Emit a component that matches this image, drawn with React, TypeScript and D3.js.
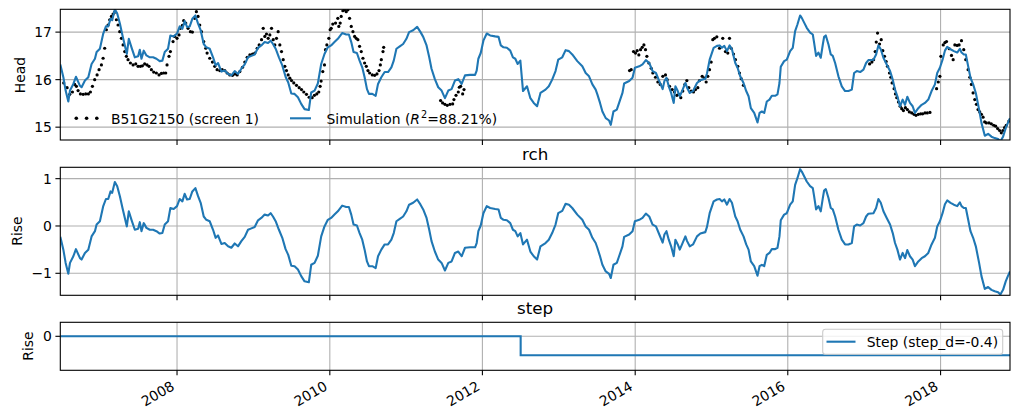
import React, { useEffect, useRef } from "react";
import * as d3 from "d3";

// time axis is kept in decimal years and turned into dates for the scale
const toDate = (t: number) => {
  const yr = Math.floor(t);
  const a = new Date(yr, 0, 1).getTime();
  const b = new Date(yr + 1, 0, 1).getTime();
  return new Date(a + (t - yr) * (b - a));
};

const yearTicks = [2008, 2010, 2012, 2014, 2016, 2018];

// recharge contribution [year, rise]
const rch: [number, number][] = [
  [2006.47, -0.23], [2006.51, -0.5], [2006.54, -0.78], [2006.575, -1.01], [2006.597, -0.78],
  [2006.641, -0.64], [2006.675, -0.49], [2006.728, -0.68], [2006.749, -0.71], [2006.793, -0.57],
  [2006.837, -0.5], [2006.88, -0.22], [2006.924, -0.11], [2006.946, 0.03], [2006.989, 0.1],
  [2007.033, 0.42], [2007.068, 0.57], [2007.098, 0.57], [2007.129, 0.73], [2007.15, 0.7],
  [2007.185, 0.93], [2007.216, 0.84], [2007.251, 0.63], [2007.285, 0.38], [2007.316, 0.17],
  [2007.342, -0.01], [2007.368, 0.31], [2007.403, 0.13], [2007.447, -0.08], [2007.49, -0.06],
  [2007.512, 0.08], [2007.534, -0.11], [2007.564, 0.06], [2007.599, -0.04], [2007.643, -0.08],
  [2007.686, -0.08], [2007.73, -0.11], [2007.773, -0.16], [2007.808, -0.15], [2007.839, 0.03],
  [2007.882, 0.1], [2007.913, 0.38], [2007.956, 0.36], [2008.0, 0.42], [2008.035, 0.57],
  [2008.07, 0.52], [2008.1, 0.68], [2008.131, 0.56], [2008.166, 0.57], [2008.2, 0.73],
  [2008.24, 0.8], [2008.275, 0.63], [2008.309, 0.49], [2008.349, 0.2], [2008.383, 0.13],
  [2008.427, 0.1], [2008.471, -0.08], [2008.505, -0.25], [2008.536, -0.2], [2008.58, -0.38],
  [2008.623, -0.36], [2008.667, -0.43], [2008.71, -0.46], [2008.754, -0.37], [2008.797, -0.43],
  [2008.841, -0.32], [2008.885, -0.23], [2008.928, -0.08], [2008.972, -0.05], [2009.015, -0.02],
  [2009.059, 0.12], [2009.102, 0.17], [2009.146, 0.24], [2009.19, 0.22], [2009.224, 0.27],
  [2009.255, 0.2], [2009.29, 0.1], [2009.333, -0.08], [2009.377, -0.25], [2009.42, -0.49],
  [2009.455, -0.61], [2009.495, -0.84], [2009.538, -0.85], [2009.582, -0.92], [2009.625, -1.06],
  [2009.669, -1.17], [2009.725, -1.19], [2009.756, -0.82], [2009.8, -0.78], [2009.843, -0.63],
  [2009.887, -0.22], [2009.93, -0.01], [2009.974, 0.13], [2010.017, 0.17], [2010.061, 0.24],
  [2010.105, 0.31], [2010.162, 0.43], [2010.215, 0.4], [2010.25, 0.4], [2010.281, 0.24],
  [2010.311, 0.03], [2010.355, 0.01], [2010.39, -0.15], [2010.425, -0.29], [2010.456, -0.5],
  [2010.487, -0.75], [2010.513, -0.85], [2010.557, -0.85], [2010.601, -0.89], [2010.632, -0.64],
  [2010.675, -0.5], [2010.719, -0.39], [2010.763, -0.39], [2010.807, -0.29], [2010.838, -0.15],
  [2010.873, 0.1], [2010.917, 0.15], [2010.961, 0.2], [2011.004, 0.31], [2011.039, 0.45],
  [2011.092, 0.49], [2011.145, 0.56], [2011.189, 0.45], [2011.224, 0.35], [2011.268, 0.17],
  [2011.303, -0.08], [2011.333, -0.32], [2011.377, -0.54], [2011.421, -0.71], [2011.465, -0.78],
  [2011.509, -0.94], [2011.553, -0.78], [2011.596, -0.75], [2011.64, -0.57], [2011.684, -0.54],
  [2011.728, -0.64], [2011.772, -0.46], [2011.838, -0.45], [2011.904, -0.45], [2011.925, -0.36],
  [2011.947, -0.11], [2011.978, 0.01], [2012.013, 0.27], [2012.057, 0.42], [2012.101, 0.38],
  [2012.167, 0.36], [2012.211, 0.35], [2012.241, 0.17], [2012.276, 0.13], [2012.32, 0.12],
  [2012.364, 0.06], [2012.399, -0.08], [2012.43, -0.11], [2012.461, -0.22], [2012.496, -0.15],
  [2012.531, -0.39], [2012.583, -0.29], [2012.627, -0.54], [2012.671, -0.64], [2012.715, -0.71],
  [2012.759, -0.43], [2012.825, -0.36], [2012.868, -0.29], [2012.912, -0.15], [2012.956, 0.03],
  [2012.991, 0.27], [2013.044, 0.32], [2013.088, 0.47], [2013.132, 0.45], [2013.175, 0.38],
  [2013.241, 0.24], [2013.307, 0.13], [2013.351, -0.01], [2013.395, -0.08], [2013.439, -0.25],
  [2013.482, -0.36], [2013.504, -0.46], [2013.539, -0.64], [2013.57, -0.82], [2013.614, -0.96],
  [2013.658, -1.01], [2013.68, -1.1], [2013.715, -0.82], [2013.759, -0.78], [2013.789, -0.64],
  [2013.833, -0.43], [2013.855, -0.23], [2013.921, -0.18], [2013.965, -0.11], [2013.996, 0.1],
  [2014.053, 0.13], [2014.096, 0.17], [2014.14, 0.26], [2014.184, 0.2], [2014.228, 0.03],
  [2014.272, -0.01], [2014.316, -0.18], [2014.36, -0.35], [2014.383, -0.18], [2014.41, -0.11],
  [2014.44, -0.29], [2014.471, -0.43], [2014.505, -0.64], [2014.527, -0.29], [2014.558, -0.39],
  [2014.584, -0.5], [2014.614, -0.39], [2014.658, -0.22], [2014.68, -0.32], [2014.715, -0.43],
  [2014.758, -0.39], [2014.81, -0.22], [2014.854, -0.16], [2014.919, -0.13], [2014.941, -0.02],
  [2014.976, 0.27], [2015.028, 0.52], [2015.072, 0.56], [2015.107, 0.57], [2015.137, 0.52],
  [2015.168, 0.56], [2015.203, 0.45], [2015.237, 0.57], [2015.268, 0.49], [2015.312, 0.2],
  [2015.342, 0.1], [2015.377, -0.08], [2015.42, -0.22], [2015.455, -0.39], [2015.486, -0.5],
  [2015.516, -0.75], [2015.56, -0.85], [2015.603, -1.05], [2015.63, -0.85], [2015.66, -0.82],
  [2015.691, -0.85], [2015.725, -0.61], [2015.76, -0.57], [2015.791, -0.49], [2015.834, -0.49],
  [2015.865, -0.46], [2015.891, -0.22], [2015.908, 0.12], [2015.952, 0.24], [2015.987, 0.27],
  [2016.031, 0.45], [2016.065, 0.52], [2016.096, 0.87], [2016.126, 1.01], [2016.161, 1.2],
  [2016.183, 1.15], [2016.214, 1.05], [2016.248, 0.94], [2016.292, 0.84], [2016.327, 0.8],
  [2016.344, 0.63], [2016.37, 0.35], [2016.401, 0.42], [2016.431, 0.31], [2016.458, 0.59],
  [2016.475, 0.75], [2016.497, 0.78], [2016.532, 0.59], [2016.562, 0.38], [2016.588, 0.35],
  [2016.619, 0.2], [2016.662, -0.08], [2016.706, -0.29], [2016.749, -0.39], [2016.793, -0.39],
  [2016.837, -0.36], [2016.867, -0.01], [2016.902, 0.03], [2016.946, 0.01], [2016.989, 0.06],
  [2017.024, 0.2], [2017.054, 0.26], [2017.12, 0.27], [2017.155, 0.38], [2017.185, 0.57],
  [2017.216, 0.49], [2017.251, 0.31], [2017.294, 0.17], [2017.338, 0.03], [2017.373, -0.15],
  [2017.403, -0.36], [2017.434, -0.5], [2017.468, -0.71], [2017.503, -0.57], [2017.534, -0.68],
  [2017.564, -0.51], [2017.599, -0.64], [2017.634, -0.71], [2017.664, -0.85], [2017.708, -0.75],
  [2017.752, -0.68], [2017.795, -0.64], [2017.839, -0.57], [2017.882, -0.39], [2017.926, -0.25],
  [2017.956, -0.01], [2017.991, 0.1], [2018.026, 0.27], [2018.057, 0.46], [2018.087, 0.54],
  [2018.131, 0.49], [2018.174, 0.45], [2018.218, 0.42], [2018.253, 0.5], [2018.275, 0.42],
  [2018.305, 0.38], [2018.331, 0.38], [2018.362, 0.13], [2018.392, -0.11], [2018.427, -0.25],
  [2018.462, -0.43], [2018.505, -0.78], [2018.536, -1.06], [2018.58, -1.33], [2018.623, -1.29],
  [2018.667, -1.35], [2018.71, -1.38], [2018.754, -1.4], [2018.784, -1.45], [2018.819, -1.35],
  [2018.854, -1.17], [2018.885, -1.05], [2018.91, -0.96],
];

// step contribution
const stepYears = [2006.47, 2012.5, 2018.91];
const stepValues = [0, -0.4, -0.4];

// model constant
const constantD = 16.55;

// observed heads, B51G2150 screen 1 [year, head]
const observed: [number, number][] = [
  [2006.515, 15.93], [2006.559, 15.83], [2006.594, 15.69], [2006.629, 15.74], [2006.659, 15.9],
  [2006.681, 15.86], [2006.703, 15.77], [2006.734, 15.7], [2006.769, 15.69], [2006.803, 15.7],
  [2006.838, 15.7], [2006.865, 15.74], [2006.891, 15.86], [2006.921, 16.0], [2006.952, 16.1],
  [2006.978, 16.21], [2007.009, 16.31], [2007.031, 16.45], [2007.052, 16.66], [2007.074, 17.05],
  [2007.096, 17.15], [2007.118, 17.26], [2007.14, 17.33], [2007.162, 17.38], [2007.183, 17.42],
  [2007.205, 17.26], [2007.227, 17.15], [2007.249, 17.01], [2007.271, 16.87], [2007.293, 16.73],
  [2007.314, 16.59], [2007.336, 16.49], [2007.358, 16.42], [2007.389, 16.35], [2007.424, 16.31],
  [2007.459, 16.33], [2007.489, 16.28], [2007.52, 16.28], [2007.546, 16.29], [2007.576, 16.33],
  [2007.607, 16.31], [2007.633, 16.28], [2007.664, 16.21], [2007.694, 16.16], [2007.729, 16.14],
  [2007.764, 16.1], [2007.795, 16.13], [2007.825, 16.14], [2007.852, 16.14], [2007.869, 16.31],
  [2007.895, 16.49], [2007.913, 16.59], [2007.948, 16.8], [2007.969, 16.91], [2008.0, 16.87],
  [2008.026, 16.94], [2008.044, 17.08], [2008.07, 17.14], [2008.087, 17.24], [2008.114, 17.19],
  [2008.144, 17.08], [2008.175, 17.01], [2008.201, 17.0], [2008.231, 17.29], [2008.253, 17.43],
  [2008.275, 17.33], [2008.297, 17.15], [2008.319, 17.01], [2008.349, 16.8], [2008.376, 16.66],
  [2008.393, 16.56], [2008.428, 16.45], [2008.463, 16.37], [2008.493, 16.28], [2008.524, 16.21],
  [2008.559, 16.19], [2008.59, 16.21], [2008.624, 16.19], [2008.655, 16.14], [2008.69, 16.1],
  [2008.725, 16.09], [2008.755, 16.12], [2008.786, 16.1], [2008.821, 16.17], [2008.856, 16.26],
  [2008.886, 16.37], [2008.917, 16.47], [2008.952, 16.52], [2008.987, 16.54], [2009.017, 16.56],
  [2009.048, 16.66], [2009.074, 16.73], [2009.105, 16.84], [2009.127, 17.08], [2009.148, 16.91],
  [2009.17, 16.96], [2009.192, 16.87], [2009.214, 16.94], [2009.236, 17.08], [2009.258, 16.84],
  [2009.279, 16.73], [2009.301, 16.87], [2009.323, 17.01], [2009.345, 16.73], [2009.367, 16.59],
  [2009.389, 16.42], [2009.41, 16.28], [2009.432, 16.19], [2009.454, 16.1], [2009.476, 16.03],
  [2009.498, 15.98], [2009.528, 15.93], [2009.563, 15.88], [2009.598, 15.83], [2009.629, 15.79],
  [2009.659, 15.74], [2009.694, 15.69], [2009.729, 15.63], [2009.768, 15.62], [2009.798, 15.67],
  [2009.829, 15.7], [2009.855, 15.74], [2009.873, 15.86], [2009.886, 15.97], [2009.908, 16.17],
  [2009.93, 16.31], [2009.943, 16.63], [2009.961, 16.73], [2009.987, 16.87], [2010.004, 17.05],
  [2010.018, 17.08], [2010.039, 17.17], [2010.075, 17.19], [2010.105, 17.29], [2010.118, 17.12],
  [2010.136, 17.19], [2010.149, 17.33], [2010.171, 17.45], [2010.193, 17.47], [2010.215, 17.43],
  [2010.237, 17.47], [2010.259, 17.29], [2010.281, 17.12], [2010.303, 17.01], [2010.325, 16.91],
  [2010.346, 16.87], [2010.368, 16.84], [2010.39, 16.7], [2010.412, 16.59], [2010.434, 16.45],
  [2010.456, 16.35], [2010.478, 16.28], [2010.5, 16.19], [2010.522, 16.14], [2010.557, 16.1],
  [2010.588, 16.09], [2010.618, 16.12], [2010.645, 16.19], [2010.662, 16.31], [2010.675, 16.42],
  [2010.697, 16.59], [2010.706, 16.68],
  [2011.452, 15.56], [2011.478, 15.51], [2011.509, 15.48], [2011.539, 15.46], [2011.575, 15.48],
  [2011.61, 15.49], [2011.627, 15.58], [2011.654, 15.67], [2011.684, 15.74], [2011.697, 15.84],
  [2011.715, 15.86], [2011.741, 15.7], [2011.759, 15.79],
  [2013.926, 16.19], [2013.948, 16.21], [2013.978, 16.59], [2014.004, 16.56], [2014.026, 16.61],
  [2014.048, 16.52], [2014.07, 16.63], [2014.092, 16.68], [2014.114, 16.73], [2014.135, 16.63],
  [2014.153, 16.49], [2014.179, 16.35], [2014.21, 16.24], [2014.231, 16.14], [2014.266, 16.05],
  [2014.297, 15.95], [2014.328, 15.9], [2014.362, 16.07], [2014.397, 16.1], [2014.419, 16.0],
  [2014.45, 15.86], [2014.485, 15.79], [2014.515, 15.74], [2014.546, 15.67], [2014.572, 15.69],
  [2014.598, 15.62], [2014.624, 15.76], [2014.651, 15.9], [2014.677, 15.98], [2014.703, 15.83],
  [2014.734, 15.76], [2014.764, 15.74], [2014.79, 15.79], [2014.821, 15.83], [2014.843, 15.98],
  [2014.878, 16.07], [2014.908, 16.03], [2014.93, 15.95], [2014.952, 16.07], [2014.974, 16.21],
  [2014.996, 16.37], [2015.017, 16.84], [2015.039, 16.87], [2015.07, 16.9], [2015.105, 16.66],
  [2015.148, 16.87], [2015.183, 16.59], [2015.214, 16.56], [2015.236, 16.87], [2015.258, 16.66],
  [2015.288, 16.54], [2015.314, 16.42], [2015.345, 16.28], [2015.367, 16.14], [2015.389, 16.02],
  [2015.419, 15.88],
  [2017.07, 16.33], [2017.1, 16.37], [2017.122, 16.42], [2017.143, 16.59], [2017.157, 16.79],
  [2017.174, 16.98], [2017.2, 16.75], [2017.222, 16.84], [2017.243, 16.61], [2017.265, 16.49],
  [2017.287, 16.38], [2017.304, 16.28], [2017.33, 16.14], [2017.348, 16.05], [2017.365, 15.93],
  [2017.391, 15.81], [2017.409, 15.7], [2017.426, 15.62], [2017.448, 15.53], [2017.47, 15.44],
  [2017.491, 15.39], [2017.513, 15.35], [2017.539, 15.41], [2017.565, 15.37], [2017.591, 15.32],
  [2017.622, 15.3], [2017.652, 15.27], [2017.678, 15.25], [2017.709, 15.27], [2017.739, 15.28],
  [2017.765, 15.28], [2017.796, 15.3], [2017.826, 15.3], [2017.861, 15.31],
  [2017.948, 15.81], [2017.97, 15.95], [2017.991, 16.07], [2018.004, 16.49], [2018.035, 16.73],
  [2018.057, 16.78], [2018.078, 16.8], [2018.113, 16.65], [2018.143, 16.51], [2018.165, 16.42],
  [2018.187, 16.73], [2018.217, 16.72], [2018.243, 16.73], [2018.274, 16.82], [2018.304, 16.63],
  [2018.33, 16.42], [2018.361, 16.21], [2018.383, 16.05], [2018.404, 15.9], [2018.426, 15.72],
  [2018.448, 15.58], [2018.47, 15.48], [2018.491, 15.37], [2018.513, 15.32], [2018.535, 15.27],
  [2018.557, 15.21], [2018.578, 15.11], [2018.6, 15.09], [2018.635, 15.09], [2018.665, 15.07],
  [2018.696, 15.04], [2018.722, 15.02], [2018.748, 14.97], [2018.774, 14.93], [2018.796, 14.88],
  [2018.817, 14.93], [2018.839, 14.99], [2018.861, 15.04], [2018.896, 15.13],
];

const headTicks = [15, 16, 17];
const rchTicks = [-1, 0, 1];
const stepTicks = [0];

const BLUE = "#1f77b4";
const GRID = "#b0b0b0";
const FONT = "DejaVu Sans, sans-serif";

const stepAt = (t: number) => {
  let v = stepValues[0];
  stepYears.forEach((s, i) => {
    if (t >= s) v = stepValues[i];
  });
  return v;
};

const fmt = (v: number) => (v < 0 ? "\u2212" + Math.abs(v) : String(v));

function App() {
  const ref = useRef<SVGSVGElement>(null);

  useEffect(() => {
    const svg = d3.select(ref.current);
    svg.selectAll("*").remove();

    const left = 60.3,
      right = 1010;
    const x = d3
      .scaleTime()
      .domain([toDate(rch[0][0]), toDate(rch[rch.length - 1][0])])
      .range([left, right]);

    // simulation = constant + recharge + step
    const simulation = rch.map(([t, v]) => [t, constantD + v + stepAt(t)] as [number, number]);

    function panel(id: string, top: number, bottom: number, domain: [number, number], ticks: number[]) {
      const y = d3.scaleLinear().domain(domain).range([bottom, top]);
      const g = svg.append("g");

      g.append("clipPath")
        .attr("id", id)
        .append("rect")
        .attr("x", left)
        .attr("y", top)
        .attr("width", right - left)
        .attr("height", bottom - top);

      g.selectAll(".gx")
        .data(yearTicks)
        .join("line")
        .attr("x1", (d) => x(toDate(d)))
        .attr("x2", (d) => x(toDate(d)))
        .attr("y1", top)
        .attr("y2", bottom)
        .attr("stroke", GRID)
        .attr("stroke-width", 1.1);

      g.selectAll(".gy")
        .data(ticks)
        .join("line")
        .attr("x1", left)
        .attr("x2", right)
        .attr("y1", (d) => y(d))
        .attr("y2", (d) => y(d))
        .attr("stroke", GRID)
        .attr("stroke-width", 1.1);

      const plot = g.append("g").attr("clip-path", `url(#${id})`);

      // axis frame and ticks drawn later so they sit on top
      const frame = () => {
        g.append("rect")
          .attr("x", left)
          .attr("y", top)
          .attr("width", right - left)
          .attr("height", bottom - top)
          .attr("fill", "none")
          .attr("stroke", "black")
          .attr("stroke-width", 1.1);

        g.selectAll(".tx")
          .data(yearTicks)
          .join("line")
          .attr("x1", (d) => x(toDate(d)))
          .attr("x2", (d) => x(toDate(d)))
          .attr("y1", bottom)
          .attr("y2", bottom + 4.9)
          .attr("stroke", "black")
          .attr("stroke-width", 1.1);

        g.selectAll(".ty")
          .data(ticks)
          .join("line")
          .attr("x1", left - 4.9)
          .attr("x2", left)
          .attr("y1", (d) => y(d))
          .attr("y2", (d) => y(d))
          .attr("stroke", "black")
          .attr("stroke-width", 1.1);

        g.selectAll(".tl")
          .data(ticks)
          .join("text")
          .attr("x", left - 8.4)
          .attr("y", (d) => y(d))
          .attr("dy", "0.36em")
          .attr("text-anchor", "end")
          .attr("font-size", 13.9)
          .text((d) => fmt(d));
      };

      return { y, g, plot, frame };
    }

    const line = (y: d3.ScaleLinear<number, number>) =>
      d3
        .line<[number, number]>()
        .x((d) => x(toDate(d[0])))
        .y((d) => y(d[1]));

    // head panel
    const p1 = panel("clip-head", 9.3, 140, [14.73, 17.48], headTicks);
    p1.plot
      .selectAll("circle")
      .data(observed)
      .join("circle")
      .attr("cx", (d) => x(toDate(d[0])))
      .attr("cy", (d) => p1.y(d[1]))
      .attr("r", 1.6)
      .attr("fill", "black");
    p1.plot
      .append("path")
      .datum(simulation)
      .attr("d", line(p1.y))
      .attr("fill", "none")
      .attr("stroke", BLUE)
      .attr("stroke-width", 2.1)
      .attr("stroke-linejoin", "round");
    p1.frame();

    p1.g
      .append("text")
      .attr("transform", "translate(25,75) rotate(-90)")
      .attr("text-anchor", "middle")
      .attr("font-size", 13.9)
      .text("Head");

    // legend of the head panel
    const lg = p1.g.append("g");
    lg.selectAll("circle")
      .data([76.3, 86.6, 96.8])
      .join("circle")
      .attr("cx", (d) => d)
      .attr("cy", 118.3)
      .attr("r", 1.8)
      .attr("fill", "black");
    lg.append("text")
      .attr("x", 111)
      .attr("y", 123.5)
      .attr("font-size", 13.9)
      .text("B51G2150 (screen 1)");
    lg.append("line")
      .attr("x1", 290)
      .attr("x2", 311)
      .attr("y1", 118.3)
      .attr("y2", 118.3)
      .attr("stroke", BLUE)
      .attr("stroke-width", 2.1);
    const simText = lg.append("text").attr("x", 326.5).attr("y", 123.5).attr("font-size", 13.9);
    simText.append("tspan").text("Simulation (");
    simText.append("tspan").attr("font-style", "italic").text("R");
    simText.append("tspan").attr("font-size", 9.7).attr("dy", -5.5).attr("dx", 1).text("2");
    simText.append("tspan").attr("dy", 5.5).text("=88.21%)");

    // recharge panel
    const p2 = panel("clip-rch", 167.3, 295.3, [-1.465, 1.24], rchTicks);
    p2.plot
      .append("path")
      .datum(rch)
      .attr("d", line(p2.y))
      .attr("fill", "none")
      .attr("stroke", BLUE)
      .attr("stroke-width", 2.1)
      .attr("stroke-linejoin", "round");
    p2.frame();
    p2.g
      .append("text")
      .attr("x", (left + right) / 2)
      .attr("y", 159.5)
      .attr("text-anchor", "middle")
      .attr("font-size", 16.7)
      .text("rch");
    p2.g
      .append("text")
      .attr("transform", "translate(22,231) rotate(-90)")
      .attr("text-anchor", "middle")
      .attr("font-size", 13.9)
      .text("Rise");

    // step panel
    const p3 = panel("clip-step", 322.3, 370.3, [-0.716, 0.295], stepTicks);
    const stepData = stepYears.map((t, i) => [t, stepValues[i]] as [number, number]);
    p3.plot
      .append("path")
      .datum(stepData)
      .attr("d", line(p3.y).curve(d3.curveStepAfter))
      .attr("fill", "none")
      .attr("stroke", BLUE)
      .attr("stroke-width", 2.1);
    p3.frame();
    p3.g
      .append("text")
      .attr("x", (left + right) / 2)
      .attr("y", 314)
      .attr("text-anchor", "middle")
      .attr("font-size", 16.7)
      .text("step");
    p3.g
      .append("text")
      .attr("transform", "translate(33,346) rotate(-90)")
      .attr("text-anchor", "middle")
      .attr("font-size", 13.9)
      .text("Rise");

    // rotated year labels under the bottom panel
    p3.g
      .selectAll(".xl")
      .data(yearTicks)
      .join("text")
      .attr("transform", (d) => {
        const px = x(toDate(d)) - 1.5;
        const py = 389;
        return `translate(${px},${py}) rotate(-30)`;
      })
      .attr("text-anchor", "end")
      .attr("font-size", 13.9)
      .text((d) => String(d));

    // step legend
    const sl = p3.g.append("g");
    sl.append("rect")
      .attr("x", 822.7)
      .attr("y", 329.3)
      .attr("width", 180)
      .attr("height", 25)
      .attr("rx", 2.8)
      .attr("fill", "white")
      .attr("fill-opacity", 0.8)
      .attr("stroke", "#cccccc")
      .attr("stroke-width", 1.1);
    sl.append("line")
      .attr("x1", 826.5)
      .attr("x2", 855.5)
      .attr("y1", 341.7)
      .attr("y2", 341.7)
      .attr("stroke", BLUE)
      .attr("stroke-width", 2.1);
    sl.append("text")
      .attr("x", 866.7)
      .attr("y", 346.5)
      .attr("font-size", 13.9)
      .text("Step (step_d=-0.4)");
  }, []);

  return (
    <svg
      ref={ref}
      width={1019}
      height={419}
      style={{ position: "absolute", left: 0, top: 0, background: "white", fontFamily: FONT }}
    />
  );
}

export default App;
